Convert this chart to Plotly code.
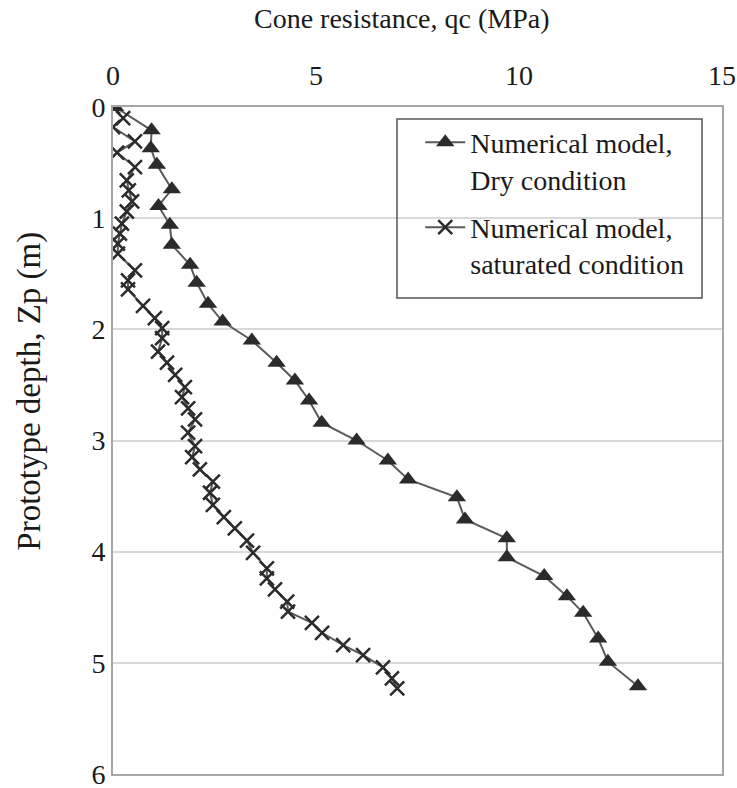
import plotly.graph_objects as go

# Dry condition (triangles)
dry_qc = [0.05, 0.95, 0.93, 1.08, 1.45, 1.12, 1.40, 1.45, 1.90, 2.06, 2.34, 2.70, 3.42, 4.03,
          4.48, 4.83, 5.14, 6.00, 6.77, 7.27, 8.47, 8.67, 9.70, 9.70, 10.62, 11.18, 11.58,
          11.95, 12.19, 12.93]
dry_z = [0.00, 0.21, 0.37, 0.52, 0.74, 0.89, 1.06, 1.24, 1.42, 1.58, 1.77, 1.93, 2.10, 2.30,
         2.46, 2.64, 2.84, 3.00, 3.18, 3.35, 3.51, 3.71, 3.88, 4.05, 4.22, 4.40, 4.55,
         4.78, 4.99, 5.21]

# Saturated condition (crosses)
sat_qc = [0.00, 0.25, 0.00, 0.54, 0.10, 0.54, 0.34, 0.39, 0.47, 0.34, 0.22, 0.17, 0.12, 0.12,
          0.54, 0.37, 0.37, 0.74, 1.03, 1.21, 1.21, 1.11, 1.33, 1.53, 1.77, 1.70, 1.85,
          2.02, 1.85, 2.02, 1.95, 2.14, 2.46, 2.39, 2.46, 2.73, 3.00, 3.30, 3.45, 3.79,
          3.79, 3.99, 4.29, 4.31, 4.90, 5.15, 5.67, 6.16, 6.65, 6.87, 7.00]
sat_z = [0.00, 0.10, 0.18, 0.31, 0.41, 0.54, 0.66, 0.75, 0.85, 0.94, 1.05, 1.14, 1.23, 1.32,
         1.47, 1.56, 1.64, 1.79, 1.90, 1.99, 2.08, 2.20, 2.30, 2.41, 2.52, 2.61, 2.71,
         2.81, 2.93, 3.05, 3.15, 3.26, 3.37, 3.47, 3.58, 3.69, 3.79, 3.90, 4.01, 4.15,
         4.24, 4.34, 4.45, 4.54, 4.64, 4.73, 4.84, 4.93, 5.04, 5.14, 5.23]

x_ticks = [0, 5, 10, 15]
y_ticks = [0, 1, 2, 3, 4, 5, 6]

FONT = "Liberation Serif, Times New Roman, serif"
TXT = "#1a1a1a"
FS = 28

fig = go.Figure()
fig.add_trace(go.Scatter(
    x=dry_qc, y=dry_z, mode="lines+markers", legendgroup="dry",
    name="Numerical model,<br>Dry condition",
    line=dict(color="#5a5a5a", width=2),
    marker=dict(symbol="triangle-up", size=16, color="#2b2b2b"),
))
fig.add_trace(go.Scatter(
    x=sat_qc, y=sat_z, mode="lines+markers", legendgroup="sat",
    name="Numerical model,<br>saturated condition",
    line=dict(color="#5a5a5a", width=2),
    marker=dict(symbol="x-thin", size=14, color="#2b2b2b",
                line=dict(color="#2b2b2b", width=2.5)),
))

# legend frame
fig.add_shape(type="rect", xref="paper", yref="paper",
              x0=0.4663, x1=0.9672, y0=0.7136, y1=0.982,
              line=dict(color="#555555", width=1.5), fillcolor="rgba(0,0,0,0)", layer="above")

# axis titles
fig.add_annotation(text="Prototype depth, Zp (m)", xref="paper", yref="paper",
                   x=-0.137, y=0.574, xanchor="center", yanchor="middle",
                   textangle=-90, showarrow=False,
                   font=dict(family=FONT, size=33, color=TXT))
fig.add_annotation(text="Cone resistance, qc (MPa)", xref="paper", yref="paper",
                   x=0.4745, y=1.133, xanchor="center", yanchor="middle", showarrow=False,
                   font=dict(family=FONT, size=FS, color=TXT))

fig.update_layout(
    width=737, height=788,
    margin=dict(l=113, r=15, t=107, b=14, autoexpand=False),
    paper_bgcolor="white", plot_bgcolor="white",
    font=dict(family=FONT, size=FS, color=TXT),
    showlegend=True,
    legend=dict(
        x=0.5045, y=0.984, xanchor="left", yanchor="top", valign="top",
        borderwidth=0, bgcolor="rgba(255,255,255,0)",
        font=dict(family=FONT, size=FS, color=TXT),
        tracegroupgap=9, itemwidth=40,
    ),
    xaxis=dict(
        side="top", range=[0, 15], tickvals=x_ticks, automargin=False,
        showgrid=False, zeroline=False,
        showline=True, linecolor="#a6a6a6", linewidth=2, mirror=True,
        ticks="", tickfont=dict(family=FONT, size=FS), ticklabelstandoff=9,
        ticklabeloverflow="allow",
    ),
    yaxis=dict(
        range=[6, 0], tickvals=y_ticks, automargin=False,
        showgrid=True, gridcolor="#d9d9d9", gridwidth=1.5, zeroline=False,
        showline=True, linecolor="#a6a6a6", linewidth=2, mirror=True,
        ticks="", tickfont=dict(family=FONT, size=FS), ticklabeloverflow="allow",
    ),
)

fig.write_html("out.html")
